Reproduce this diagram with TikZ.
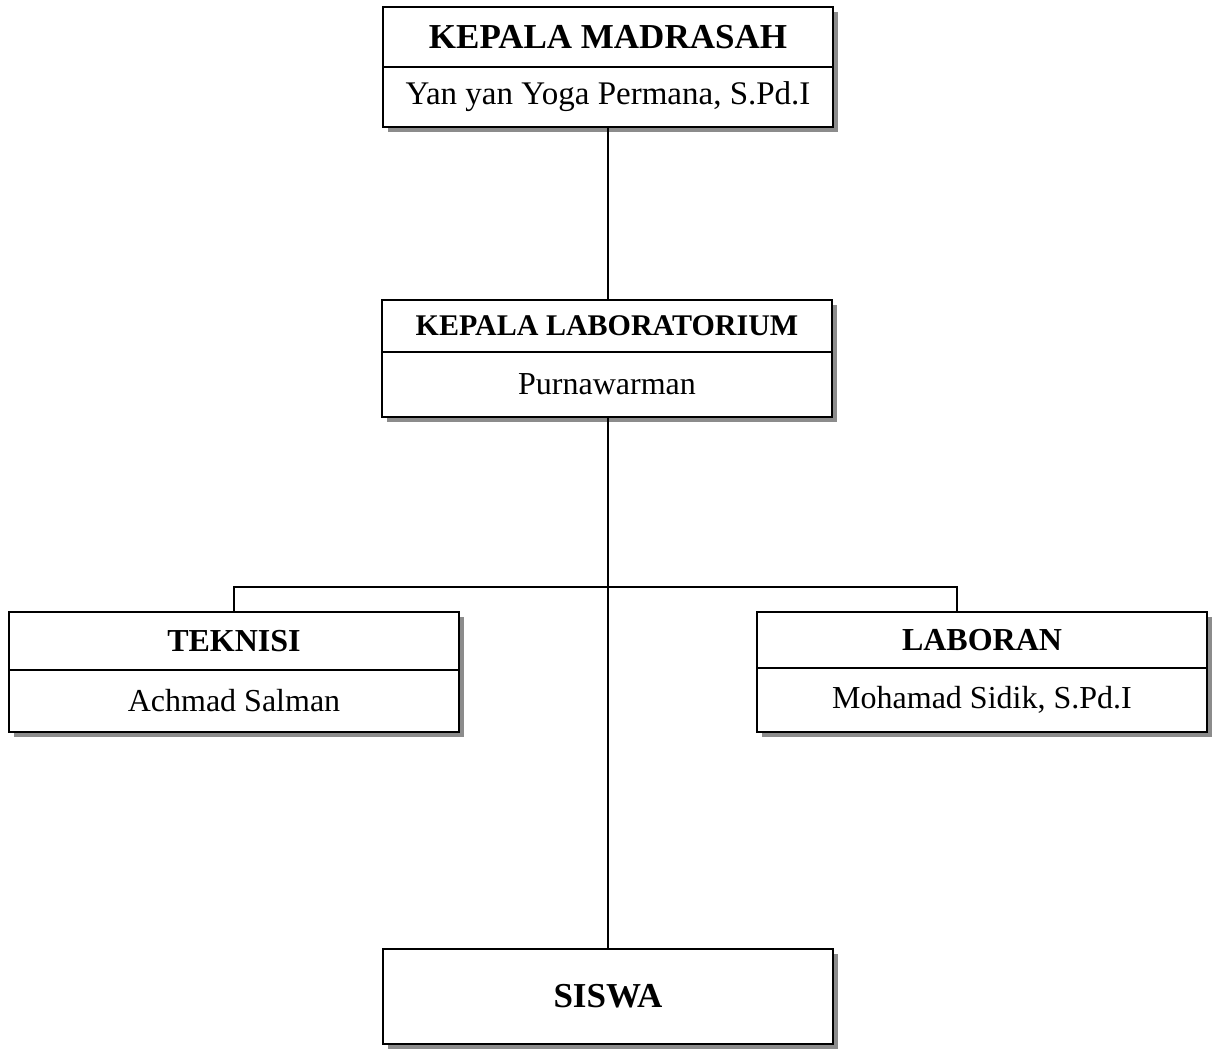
\documentclass[tikz,border=0pt]{standalone}
\usepackage{fontspec}
\setmainfont{Liberation Serif}
\usetikzlibrary{shadows,positioning}
\tikzset{
  box/.style={draw, fill=white, line width=0.65pt, inner sep=0pt, outer sep=0pt, minimum width=225pt,
    drop shadow={shadow xshift=2.5pt, shadow yshift=-2.5pt, fill=gray!90, opacity=1}},
  headbox/.style={box, font=\bfseries\fontsize{16}{18}\selectfont},
  namebox/.style={box, font=\fontsize{16}{18}\selectfont},
  link/.style={line width=0.65pt}
}
\begin{document}
\begin{tikzpicture}[x=0.5pt,y=-0.5pt]
\useasboundingbox (0,0) rectangle (1218,1048);
% kepala madrasah
\node[headbox, minimum height=30pt, anchor=north west, font=\bfseries\fontsize{17.5}{20}\selectfont] (madrasah) at (383,7) {KEPALA MADRASAH};
\node[namebox, minimum height=30pt, anchor=north, font=\fontsize{16.5}{18}\selectfont] (madrasah-name) at (madrasah.south) {Yan yan Yoga Permana, S.Pd.I};
% kepala laboratorium
\node[headbox, minimum height=26pt, anchor=north west, font=\bfseries\fontsize{15}{17}\selectfont] (kalab) at (382,300) {KEPALA LABORATORIUM};
\node[namebox, minimum height=32.5pt, anchor=north] (kalab-name) at (kalab.south) {Purnawarman};
% teknisi
\node[headbox, minimum height=29pt, anchor=north west] (teknisi) at (9,612) {TEKNISI};
\node[namebox, minimum height=31pt, anchor=north] (teknisi-name) at (teknisi.south) {Achmad Salman};
% laboran
\node[headbox, minimum height=28pt, anchor=north west] (laboran) at (757,612) {LABORAN};
\node[namebox, minimum height=32pt, anchor=north] (laboran-name) at (laboran.south) {Mohamad Sidik, S.Pd.I};
% siswa
\node[headbox, minimum height=47.5pt, anchor=north west, font=\bfseries\fontsize{17.5}{20}\selectfont] (siswa) at (383,949) {SISWA};

\coordinate (bus) at (608,587);
\coordinate (bus-right) at (957,587);
\draw[link] (madrasah-name.south) -- (madrasah-name.south |- kalab.north);
\draw[link] (siswa.north |- kalab-name.south) -- (siswa.north);
\draw[link] (teknisi.north) |- (bus) -- (bus-right) -- (bus-right |- laboran.north);
\end{tikzpicture}
\end{document}
